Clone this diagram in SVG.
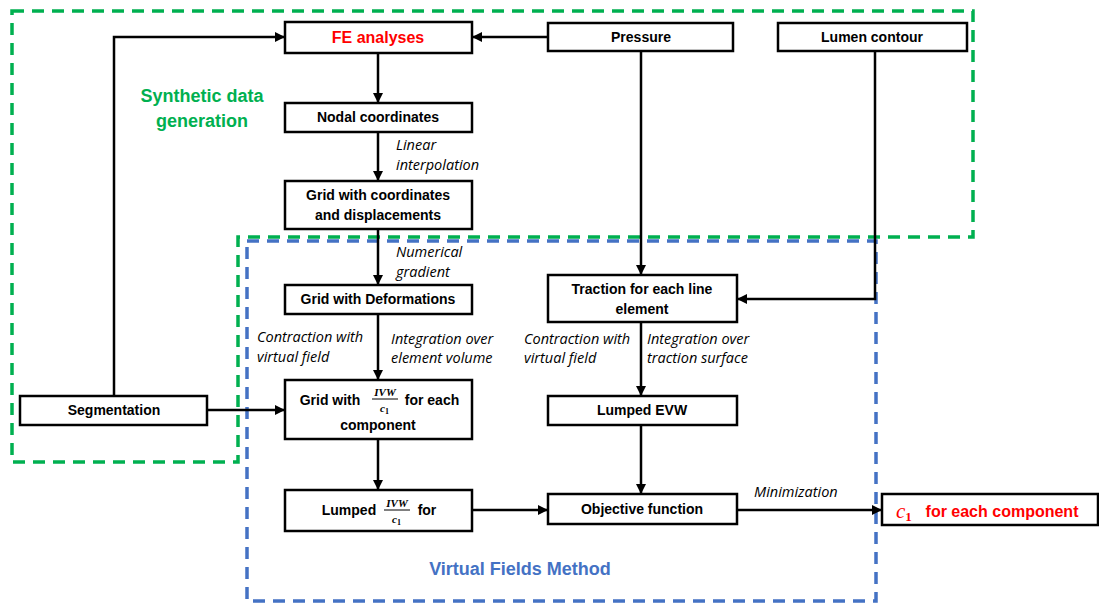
<svg xmlns="http://www.w3.org/2000/svg" width="1099" height="603" viewBox="0 0 1099 603">
<defs>
<marker id="ah" markerWidth="10" markerHeight="10" refX="9" refY="5" orient="auto" markerUnits="userSpaceOnUse">
<path d="M0,0 L10,5 L0,10 Z" fill="#000"/>
</marker>
<style>
.box{fill:#fff;stroke:#000;stroke-width:2.5}
.t{font-family:"Liberation Sans",Arial,sans-serif;font-weight:bold;font-size:14px;fill:#000;text-anchor:middle}
.it{font-family:"Open Sans","Liberation Sans",sans-serif;font-style:italic;font-size:14.5px;fill:#000}
.c{fill:none;stroke:#000;stroke-width:2.5}
.m{font-family:"Liberation Serif","Times New Roman",serif;font-style:italic;font-weight:bold}
</style>
</defs>
<rect width="1099" height="603" fill="#fff"/>
<g id="regions">
<path d="M12,11 H973 V237 H238 V462 H12 Z" fill="none" stroke="#00B050" stroke-width="3.5" stroke-dasharray="12,8"/>
<rect x="247" y="241" width="629" height="360" fill="none" stroke="#4472C4" stroke-width="3.5" stroke-dasharray="12,8"/>
<text x="202" y="102" font-family="Liberation Sans,Arial,sans-serif" font-weight="bold" font-size="18" fill="#00B050" text-anchor="middle">Synthetic data</text>
<text x="202" y="127" font-family="Liberation Sans,Arial,sans-serif" font-weight="bold" font-size="18" fill="#00B050" text-anchor="middle">generation</text>
<text x="520" y="575" font-family="Liberation Sans,Arial,sans-serif" font-weight="bold" font-size="18" fill="#4472C4" text-anchor="middle">Virtual Fields Method</text>
</g>
<g id="connectors">
<line class="c" x1="378" y1="53" x2="378" y2="102" marker-end="url(#ah)"/>
<line class="c" x1="378" y1="132" x2="378" y2="180" marker-end="url(#ah)"/>
<line class="c" x1="378" y1="229" x2="378" y2="284" marker-end="url(#ah)"/>
<line class="c" x1="378" y1="314" x2="378" y2="379" marker-end="url(#ah)"/>
<line class="c" x1="378" y1="439" x2="378" y2="489" marker-end="url(#ah)"/>
<line class="c" x1="472" y1="510" x2="547" y2="510" marker-end="url(#ah)"/>
<line class="c" x1="548" y1="37" x2="473" y2="37" marker-end="url(#ah)"/>
<line class="c" x1="641" y1="51" x2="641" y2="274" marker-end="url(#ah)"/>
<path class="c" d="M875,51 V299 H738" marker-end="url(#ah)"/>
<line class="c" x1="641" y1="322" x2="641" y2="395" marker-end="url(#ah)"/>
<line class="c" x1="641" y1="425" x2="641" y2="493" marker-end="url(#ah)"/>
<line class="c" x1="737" y1="510" x2="881" y2="510" marker-end="url(#ah)"/>
<path class="c" d="M114,396 V37 H284" marker-end="url(#ah)"/>
<line class="c" x1="207" y1="410" x2="284" y2="410" marker-end="url(#ah)"/>
<text class="it" x="396" y="150">Linear</text>
<text class="it" x="396" y="170">interpolation</text>
<text class="it" x="396" y="257">Numerical</text>
<text class="it" x="396" y="277">gradient</text>
<text class="it" x="257" y="342">Contraction with</text>
<text class="it" x="257" y="362">virtual field</text>
<text class="it" x="391" y="344">Integration over</text>
<text class="it" x="391" y="363">element volume</text>
<text class="it" x="524" y="344">Contraction with</text>
<text class="it" x="524" y="363">virtual field</text>
<text class="it" x="647" y="344">Integration over</text>
<text class="it" x="647" y="363">traction surface</text>
<text class="it" x="754" y="497">Minimization</text>
</g>
<g id="fe">
<rect class="box" x="285" y="22" width="187" height="31"/>
<text class="t" x="378" y="43" style="fill:#FF0000;font-size:16px">FE analyses</text>
</g>
<g id="pressure">
<rect class="box" x="548" y="23" width="185" height="28"/>
<text class="t" x="641" y="42">Pressure</text>
</g>
<g id="lumen">
<rect class="box" x="778" y="23" width="189" height="28"/>
<text class="t" x="872" y="42">Lumen contour</text>
</g>
<g id="nodal">
<rect class="box" x="285" y="103" width="187" height="29"/>
<text class="t" x="378" y="122">Nodal coordinates</text>
</g>
<g id="gridcoords">
<rect class="box" x="285" y="181" width="187" height="48"/>
<text class="t" x="378" y="200">Grid with coordinates</text>
<text class="t" x="378" y="220">and displacements</text>
</g>
<g id="griddef">
<rect class="box" x="285" y="285" width="187" height="29"/>
<text class="t" x="378" y="304">Grid with Deformations</text>
</g>
<g id="traction">
<rect class="box" x="548" y="275" width="189" height="47"/>
<text class="t" x="642" y="294">Traction for each line</text>
<text class="t" x="642" y="314">element</text>
</g>
<g id="gridivw">
<rect class="box" x="285" y="380" width="187" height="59"/>
<text class="t" x="330" y="405">Grid with</text>
<text class="m" x="385" y="396" font-size="11" text-anchor="middle">IVW</text>
<line x1="372" y1="399" x2="398" y2="399" stroke="#000" stroke-width="1"/>
<text class="m" x="380" y="412" font-size="11">c<tspan font-size="8" dy="2" font-style="normal">1</tspan></text>
<text class="t" x="432" y="405">for each</text>
<text class="t" x="378" y="430">component</text>
</g>
<g id="segmentation">
<rect class="box" x="20" y="396" width="187" height="29"/>
<text class="t" x="114" y="415">Segmentation</text>
</g>
<g id="lumpedevw">
<rect class="box" x="548" y="396" width="189" height="29"/>
<text class="t" x="642" y="415">Lumped EVW</text>
</g>
<g id="lumpedivw">
<rect class="box" x="285" y="490" width="187" height="41"/>
<text class="t" x="349" y="515">Lumped</text>
<text class="m" x="397" y="507" font-size="11" text-anchor="middle">IVW</text>
<line x1="384" y1="510" x2="410" y2="510" stroke="#000" stroke-width="1"/>
<text class="m" x="392" y="523" font-size="11">c<tspan font-size="8" dy="2" font-style="normal">1</tspan></text>
<text class="t" x="427" y="515">for</text>
</g>
<g id="objective">
<rect class="box" x="548" y="494" width="189" height="30"/>
<text class="t" x="642" y="514">Objective function</text>
</g>
<g id="result">
<rect class="box" x="882" y="494" width="216" height="31"/>
<text x="896" y="518" font-family="Liberation Serif,serif" font-style="italic" font-size="21" fill="#FF0000">c<tspan font-size="13" dy="3" font-style="normal" font-weight="bold">1</tspan></text>
<text x="1002" y="517" font-family="Liberation Sans,Arial,sans-serif" font-weight="bold" font-size="16" fill="#FF0000" text-anchor="middle">for each component</text>
</g>
</svg>
